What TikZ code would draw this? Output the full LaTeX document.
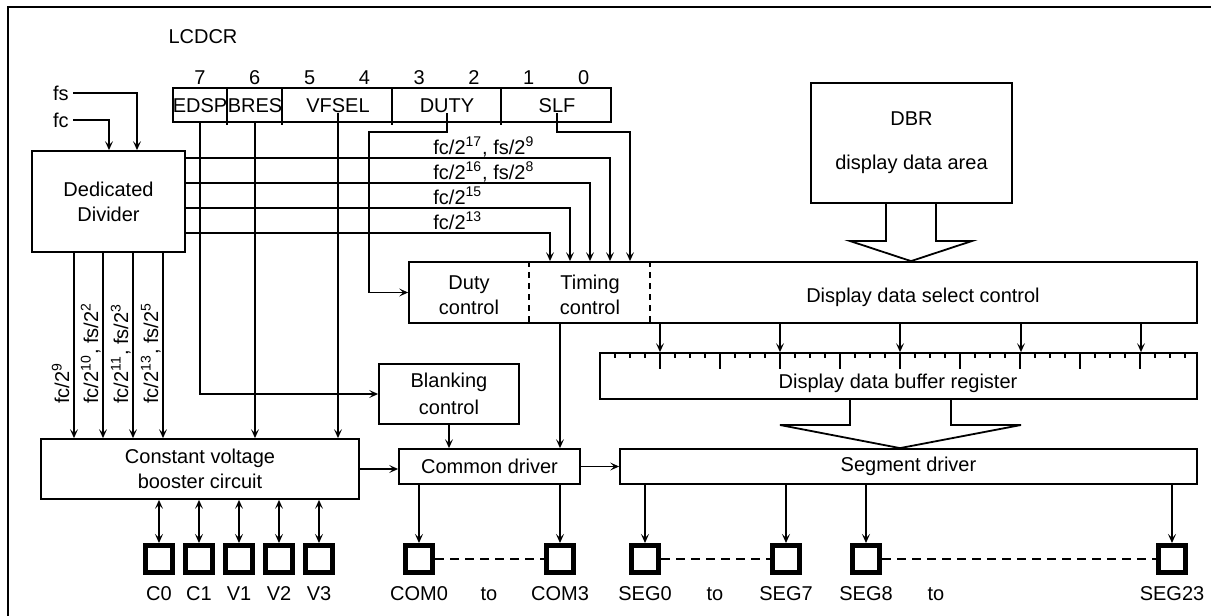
\documentclass[tikz,border=0pt]{standalone}
\usepackage{fontspec}
\setmainfont{Liberation Sans}
\usetikzlibrary{positioning, arrows.meta, calc}

\begin{document}
\begin{tikzpicture}[x=0.5pt, y=-0.5pt, font=\fontsize{10}{12.5}\selectfont,
    box/.style={draw, line width=0.9pt, inner sep=0pt, align=center},
    pad/.style={draw, line width=2.3pt, minimum size=13.7pt, inner sep=0pt},
    lbl/.style={inner sep=0pt},
    wire/.style={line width=0.9pt},
    arr/.style={wire, -{Stealth[length=4.5pt, width=4pt, inset=2pt]}},
    dual/.style={wire, {Stealth[length=4.5pt, width=4pt, inset=2pt]}-{Stealth[length=4.5pt, width=4pt, inset=2pt]}},
    split/.style={wire, dash pattern=on 3pt off 2.5pt},
    link/.style={wire, dash pattern=on 4.5pt off 3pt}]
  \useasboundingbox (0,0) rectangle (1211,616);
  % Frame
  \draw[line width=1pt] (8,616) -- (8,7) -- (1211,7);

  % LCDCR register
  \node[lbl] (lcdcr) at (203,37) {LCDCR};
  \node[box, minimum width=219pt, minimum height=17pt] (reg) at (392,105) {};
  \foreach \xx in {227,282,392,501}
    \draw[wire] (\xx,0 |- reg.north) -- ([yshift=-1pt]\xx,0 |- reg.south);
  \foreach \bit [count=\i from 0] in {7,6,5,4,3,2,1,0}
    \node[lbl] (b\bit) at (200+54.8*\i,78) {\bit};
  \node[lbl] (fED) at (200,106) {EDSP};
  \node[lbl] (fBR) at (255,106) {BRES};
  \node[lbl] (fVF) at (338,106) {VFSEL};
  \node[lbl] (fDU) at (447,106) {DUTY};
  \node[lbl] (fSL) at (557,106) {SLF};

  % Blocks
  \node[box, minimum width=76.5pt, minimum height=50.5pt] (div) at (108.5,201.5) {Dedicated\\Divider};
  \node[box, minimum width=100.5pt, minimum height=60pt, font=\fontsize{10}{22}\selectfont] (dbr) at (911.5,143) {DBR\\display data area};
  \node[box, minimum width=394pt, minimum height=30.5pt] (ctl) at (803,292.5) {};
  \draw[split] (529,0 |- ctl.north) -- (529,0 |- ctl.south);
  \draw[split] (650,0 |- ctl.north) -- (650,0 |- ctl.south);
  \node[lbl, align=center] (duty) at (469,295) {Duty\\control};
  \node[lbl, align=center] (timing) at (590,295) {Timing\\control};
  \node[lbl] (dsel) at (923,297) {Display data select control};
  \node[box, minimum width=298.5pt, minimum height=23pt] (buf) at (898.5,376) {};
  \node[lbl] (buftxt) at (898,383) {Display data buffer register};
  \node[box, minimum width=70pt, minimum height=30pt, font=\fontsize{10}{13.5}\selectfont] (blank) at (449,394) {Blanking\\control};
  \node[box, minimum width=159pt, minimum height=30pt] (boost) at (200,469) {Constant voltage\\booster circuit};
  \node[box, minimum width=90.5pt, minimum height=17.5pt] (com) at (489.5,466.5) {Common driver};
  \node[box, minimum width=288.5pt, minimum height=17.5pt] (seg) at (908.5,466.5) {Segment driver};

  % Pins
  \foreach \nm/\xx/\tx in {c0/159/C0, c1/199/C1, v1/239/V1, v2/279/V2, v3/319/V3,
      com0/419/COM0, com3/560/COM3, seg0/645/SEG0, seg7/786/SEG7, seg8/866/SEG8, seg23/1172/SEG23}{
    \node[pad] (\nm) at (\xx,559) {};
    \node[lbl, anchor=base] (t\nm) at (\xx,600) {\tx};
  }
  \foreach \nm/\xx in {to1/489, to2/715, to3/936}
    \node[lbl, anchor=base] (\nm) at (\xx,600) {to};

  % Clock inputs
  \node[lbl, inner sep=2pt, anchor=east] (fs) at (73,93) {fs};
  \node[lbl, inner sep=2pt, anchor=east] (fc) at (73,120) {fc};
  \draw[arr] (fs.east) -| (137,0 |- div.north);
  \draw[arr] (fc.east) -| (109,0 |- div.north);

  % Divider to timing control
  \foreach \yy/\xx in {158/610, 183/590, 208/570, 233/550}
    \draw[arr] (div.east |- 0,\yy) -| (\xx,0 |- ctl.north);
  \node[lbl, anchor=base west] (r17) at (433,154) {fc/2\textsuperscript{17}, fs/2\textsuperscript{9}};
  \node[lbl, anchor=base west] (r16) at (433,179) {fc/2\textsuperscript{16}, fs/2\textsuperscript{8}};
  \node[lbl, anchor=base west] (r15) at (433,204) {fc/2\textsuperscript{15}};
  \node[lbl, anchor=base west] (r13) at (433,229) {fc/2\textsuperscript{13}};

  % Register bits
  \draw[arr] (fED |- reg.south) |- (blank.west);
  \draw[arr] (fBR |- reg.south) -- (fBR |- boost.north);
  \draw[arr] (fVF.south) -- (fVF |- boost.north);
  \draw[arr] (fDU.south) |- (369,132) |- (ctl.west);
  \draw[arr] (fSL.south) |- (630,132) -- (630,0 |- ctl.north);

  % Divider to booster
  \foreach \xx in {74,103,133,163}
    \draw[arr] (\xx,0 |- div.south) -- (\xx,0 |- boost.north);
  \node[lbl, rotate=90, anchor=base west] (d9) at (69,404) {fc/2\textsuperscript{9}};
  \node[lbl, rotate=90, anchor=base west] (d10) at (98,404) {fc/2\textsuperscript{10}, fs/2\textsuperscript{2}};
  \node[lbl, rotate=90, anchor=base west] (d11) at (128,404) {fc/2\textsuperscript{11}, fs/2\textsuperscript{3}};
  \node[lbl, rotate=90, anchor=base west] (d13) at (158,404) {fc/2\textsuperscript{13}, fs/2\textsuperscript{5}};

  % Drivers
  \draw[arr] (boost.east) -- (boost.east -| com.west);
  \draw[arr] (com.east) -- (seg.west);
  \draw[arr] (blank.south) -- (blank.south |- com.north);
  \draw[arr] (560,0 |- ctl.south) -- (560,0 |- com.north);
  \foreach \xx in {660,780,900,1021,1141}
    \draw[arr] (\xx,0 |- ctl.south) -- (\xx,0 |- buf.north);
  \foreach \k in {1,...,39}{
    \pgfmathsetmacro{\tl}{ifthenelse(mod(\k,4)==0,17,6)}
    \draw[wire] (600+15*\k,0 |- buf.north) -- ++(0,\tl);
  }

  % Data paths
  \draw[wire] (886,0 |- dbr.south) -- (886,241) -- (850,241) -- (911,0 |- ctl.north)
    -- (972,241) -- (936,241) -- (936,0 |- dbr.south);
  \draw[wire] (850,0 |- buf.south) -- (850,425) -- (780,425) -- (900,0 |- seg.north)
    -- (1021,425) -- (951,425) -- (951,0 |- buf.south);

  % Pin connections
  \foreach \nm in {c0,c1,v1,v2,v3}
    \draw[dual] (boost.south -| \nm.north) -- (\nm.north);
  \foreach \nm in {com0,com3}
    \draw[arr] (com.south -| \nm.north) -- (\nm.north);
  \foreach \nm in {seg0,seg7,seg8,seg23}
    \draw[arr] (seg.south -| \nm.north) -- (\nm.north);
  \draw[link] (com0.east) -- (com3.west);
  \draw[link] (seg0.east) -- (seg7.west);
  \draw[link] (seg8.east) -- (seg23.west);
\end{tikzpicture}
\end{document}
